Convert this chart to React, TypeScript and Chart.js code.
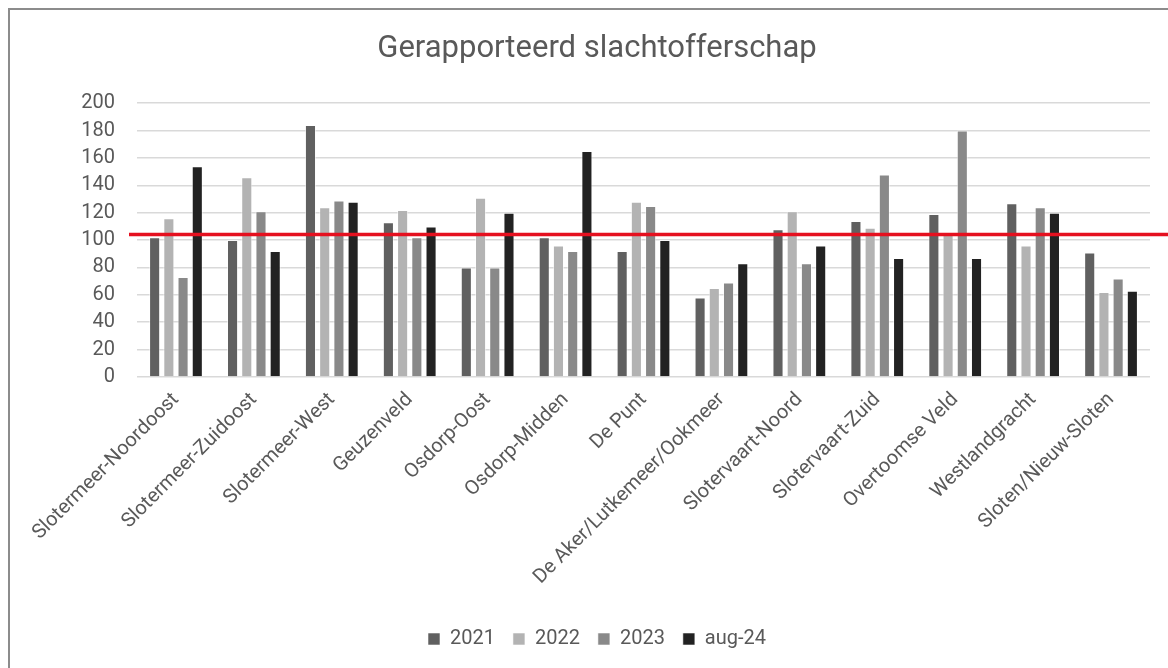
import React, { useEffect, useRef } from "react";
import { Chart, registerables } from "chart.js";

Chart.register(...registerables);

const categories = [
  "Slotermeer-Noordoost",
  "Slotermeer-Zuidoost",
  "Slotermeer-West",
  "Geuzenveld",
  "Osdorp-Oost",
  "Osdorp-Midden",
  "De Punt",
  "De Aker/Lutkemeer/Ookmeer",
  "Slotervaart-Noord",
  "Slotervaart-Zuid",
  "Overtoomse Veld",
  "Westlandgracht",
  "Sloten/Nieuw-Sloten",
];

const values2021 = [102, 100, 184, 113, 80, 102, 92, 58, 108, 114, 119, 127, 91];
const values2022 = [116, 146, 124, 122, 131, 96, 128, 65, 121, 109, 106, 96, 62];
const values2023 = [73, 121, 129, 102, 80, 92, 125, 69, 83, 148, 180, 124, 72];
const valuesAug24 = [154, 92, 128, 110, 120, 165, 100, 83, 96, 87, 87, 120, 63];

const seriesLabels = ["2021", "2022", "2023", "aug-24"];
const seriesColors = ["#606060", "#b3b3b3", "#898989", "#222222"];

const referenceValue = 104;
const yTicks = [0, 20, 40, 60, 80, 100, 120, 140, 160, 180, 200];

const FONT = "Roboto, 'Liberation Sans', sans-serif";
const TEXT = "#595959";

const refLinePlugin = {
  id: "refLine",
  afterDatasetsDraw(chart: any) {
    const { ctx, chartArea, scales } = chart;
    const y = scales.y.getPixelForValue(referenceValue);
    ctx.save();
    ctx.strokeStyle = "#e5101f";
    ctx.lineWidth = 3.5;
    ctx.beginPath();
    ctx.moveTo(chartArea.left - 8, y);
    ctx.lineTo(chart.width, y);
    ctx.stroke();
    ctx.restore();
  },
};

export default function App() {
  const ref = useRef<HTMLCanvasElement | null>(null);

  useEffect(() => {
    if (!ref.current) return;
    const seriesValues = [values2021, values2022, values2023, valuesAug24];
    const chart = new Chart(ref.current, {
      type: "bar",
      data: {
        labels: categories,
        datasets: seriesLabels.map((label, i) => ({
          label,
          data: seriesValues[i],
          backgroundColor: seriesColors[i],
          borderColor: "rgba(255,255,255,0.55)",
          borderWidth: 1,
          categoryPercentage: 0.73,
          barPercentage: 0.78,
        })),
      },
      options: {
        responsive: false,
        maintainAspectRatio: false,
        animation: false,
        layout: { padding: { left: 34, right: 18, top: 0, bottom: 9 } },
        plugins: {
          title: {
            display: true,
            text: "Gerapporteerd slachtofferschap",
            color: TEXT,
            font: { family: FONT, size: 31, weight: "normal" },
            padding: { top: 21, bottom: 35 },
          },
          legend: {
            position: "bottom",
            labels: {
              color: TEXT,
              font: { family: FONT, size: 20 },
              boxWidth: 12,
              boxHeight: 12,
              padding: 18,
            },
          },
          tooltip: { enabled: false },
        },
        scales: {
          x: {
            grid: { display: false },
            border: { display: false },
            ticks: {
              color: TEXT,
              font: { family: FONT, size: 20 },
              maxRotation: 45,
              minRotation: 45,
              autoSkip: false,
              padding: 3,
            },
            afterFit: (scale: any) => {
              scale.height = 234;
            },
          },
          y: {
            min: 0,
            max: 200,
            afterBuildTicks: (scale: any) => {
              scale.ticks = yTicks.map((v) => ({ value: v }));
            },
            afterFit: (scale: any) => {
              scale.width = 93;
            },
            grid: { color: "#d9d9d9", lineWidth: 1.5, drawTicks: false },
            border: { display: false },
            ticks: {
              color: TEXT,
              font: { family: FONT, size: 20 },
              padding: 22,
            },
          },
        },
      },
      plugins: [refLinePlugin],
    });
    return () => chart.destroy();
  }, []);

  return (
    <div
      style={{
        position: "fixed",
        left: 8,
        top: 8,
        width: 1160,
        height: 660,
        borderLeft: "2px solid #8c8c8c",
        borderTop: "2px solid #8c8c8c",
        background: "#fff",
        overflow: "hidden",
      }}
    >
      <canvas ref={ref} width={1158} height={658} style={{ display: "block" }} />
    </div>
  );
}
